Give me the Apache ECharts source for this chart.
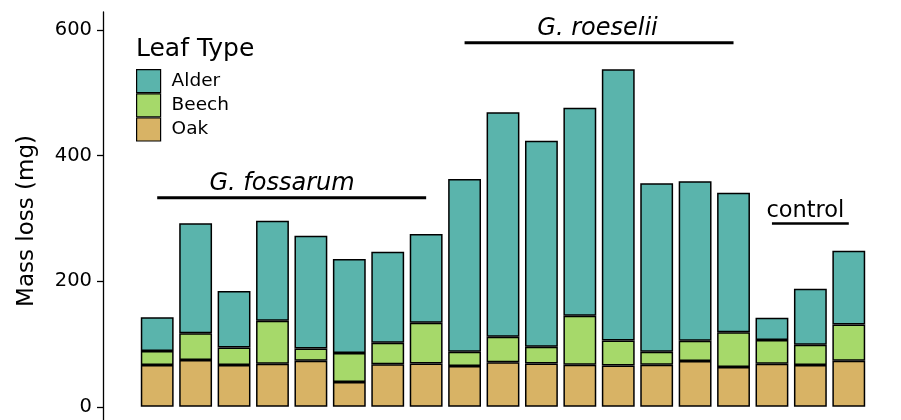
<!DOCTYPE html>
<html>
<head>
<meta charset="utf-8">
<script src="https://cdn.jsdelivr.net/npm/echarts@6/dist/echarts.min.js"></script>
<style>html,body{margin:0;padding:0;background:#fff;}#c{width:901px;height:420px;}</style>
</head>
<body>
<div id="c"></div>
<script>
// ---- data ----
const categories = ['1','2','3','4','5','6','7','8','9','10','11','12','13','14','15','16','17','18','19'];
const oak   = [66.5, 74.4, 66.5, 68.5, 73.3, 39.4, 68.0, 69.2, 64.9, 71.2, 69.2, 66.9, 66.0, 66.9, 72.8, 63.3, 68.5, 66.5, 73.3];
const beech = [22.3, 43.0, 28.1, 68.5, 19.7, 46.2, 34.0, 64.7, 22.7, 40.4, 26.4, 78.1, 39.8, 20.7, 32.4, 55.3, 37.8, 32.3, 58.0];
const alder = [53.7, 174.9, 89.8, 159.4, 179.5, 149.8, 145.0, 141.3, 275.3, 357.6, 328.3, 331.5, 431.9, 268.4, 254.0, 222.4, 35.5, 89.2, 117.3];
const yTicks = [0, 200, 400, 600];
const legendNames = ['Alder', 'Beech', 'Oak'];
// group annotations: [label, first bar index, last bar index, line value, text x index, text value, italic]
const groups = [
  ['G. fossarum', 0, 7, 333, 3.25, 356, true],
  ['G. roeselii', 8, 15, 580, 11.46, 603, true],
  ['control', 16, 18, 292, 16.87, 311, false]
];

const FONT = 'DejaVu Sans';
const colors = { Alder: '#5ab4ac', Beech: '#a6d96a', Oak: '#d8b365' };

function barSeries(name, data) {
  return {
    name: name, type: 'bar', stack: 'total', data: data,
    barWidth: '85.5%',
    itemStyle: { color: colors[name], borderColor: '#000', borderWidth: 1.5 },
    emphasis: { disabled: true }, silent: true
  };
}

const series = [barSeries('Oak', oak), barSeries('Beech', beech), barSeries('Alder', alder)];

groups.forEach(function (g, i) {
  series.push({
    type: 'line', xAxisIndex: 1, yAxisIndex: 0, silent: true,
    data: [[g[1], g[3]], [g[2], g[3]]],
    symbol: 'none',
    lineStyle: { color: '#000', width: i === 2 ? 2.5 : 3, cap: 'butt' },
    z: 5
  });
  series.push({
    type: 'scatter', xAxisIndex: 1, yAxisIndex: 0, silent: true,
    data: [[g[4], g[5]]],
    symbolSize: 0,
    itemStyle: { color: '#000', opacity: 1 },
    label: {
      show: true, position: 'top', distance: 0, formatter: g[0],
      fontFamily: FONT, fontSize: i === 2 ? 22.5 : 24,
      fontStyle: g[6] ? 'italic' : 'normal', color: '#000', opacity: 1,
      textBorderWidth: 0,
      align: 'center', verticalAlign: 'middle'
    },
    z: 5
  });
});

const chart = echarts.init(document.getElementById('c'), null, { renderer: 'canvas' });
chart.setOption({
  backgroundColor: '#fff',
  animation: false,
  title: {
    text: 'Leaf Type', left: 136, top: 37, padding: 0,
    textStyle: { fontFamily: FONT, fontSize: 25, fontWeight: 'normal', color: '#000' }
  },
  legend: {
    data: legendNames, orient: 'vertical', left: 136, top: 69, padding: 0,
    itemGap: 0, itemWidth: 24, itemHeight: 23, icon: 'rect',
    selectedMode: false,
    itemStyle: { borderWidth: 1.2, borderColor: '#000' },
    textStyle: { fontFamily: FONT, fontSize: 18.5, color: '#000', padding: [0, 0, 0, 6] }
  },
  grid: { left: 138, right: 33, top: 12, bottom: 0, containLabel: false },
  xAxis: [
    { type: 'category', data: categories, show: false },
    { type: 'value', min: -0.5, max: 18.5, show: false }
  ],
  yAxis: {
    type: 'value', min: -21, max: 629, offset: 35,
    name: 'Mass loss (mg)', nameLocation: 'middle', nameGap: 64,
    nameTextStyle: { fontFamily: FONT, fontSize: 23, color: '#000', padding: [0, 10, 0, 0] },
    axisLine: { show: true, onZero: false, lineStyle: { color: '#000', width: 1.3 } },
    axisTick: { show: true, length: 6, customValues: yTicks, lineStyle: { color: '#000', width: 1.3 } },
    axisLabel: { customValues: yTicks, margin: 11, fontFamily: FONT, fontSize: 19.5, color: '#000' },
    splitLine: { show: false }
  },
  series: series
});
</script>
</body>
</html>
